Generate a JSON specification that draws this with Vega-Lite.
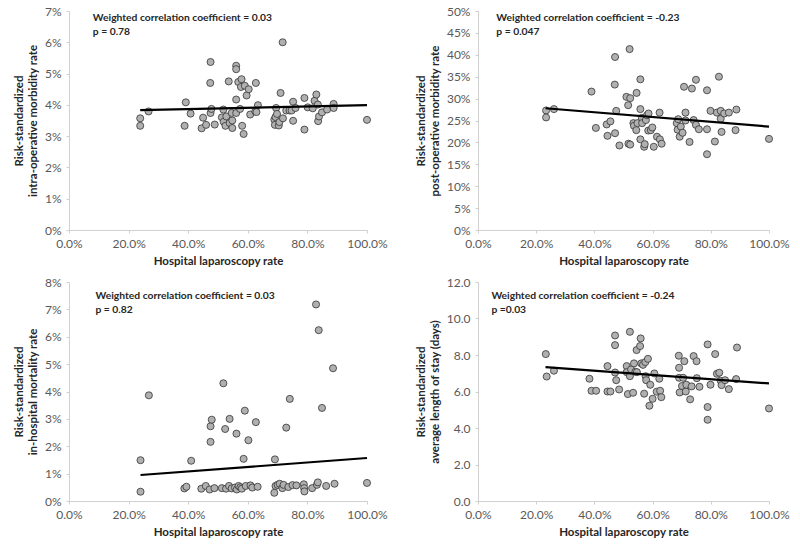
{
  "$schema": "https://vega.github.io/schema/vega-lite/v6.json",
  "background": "white",
  "padding": {"left": 13, "top": 5, "right": 5, "bottom": 5},
  "columns": 2,
  "align": "each",
  "spacing": {"column": 27, "row": 9},
  "config": {
    "view": {"stroke": null},
    "font": "Lato",
    "axis": {
      "grid": false,
      "domainColor": "#d0d0d0",
      "tickColor": "#d0d0d0",
      "tickSize": 3,
      "labelColor": "#595959",
      "labelFont": "Lato",
      "labelFontSize": 12,
      "labelPadding": 5,
      "labelOverlap": false,
      "labelFlush": false,
      "labelBound": false,
      "titleFont": "Lato",
      "titleFontSize": 11.5,
      "titleFontWeight": "bold",
      "titleColor": "#262626",
      "titlePadding": 6
    }
  },
  "datasets": {
    "p1": [
      {"rate": 0.239, "val": 0.0357}, {"rate": 0.239, "val": 0.0333}, {"rate": 0.267, "val": 0.0379}, {"rate": 0.388, "val": 0.0333},
      {"rate": 0.392, "val": 0.0408}, {"rate": 0.408, "val": 0.0372}, {"rate": 0.445, "val": 0.0325}, {"rate": 0.450, "val": 0.0359},
      {"rate": 0.460, "val": 0.0336}, {"rate": 0.475, "val": 0.0537}, {"rate": 0.474, "val": 0.0470}, {"rate": 0.475, "val": 0.0374},
      {"rate": 0.478, "val": 0.0387}, {"rate": 0.489, "val": 0.0337}, {"rate": 0.513, "val": 0.0360}, {"rate": 0.518, "val": 0.0385},
      {"rate": 0.519, "val": 0.0346}, {"rate": 0.525, "val": 0.0333}, {"rate": 0.528, "val": 0.0363}, {"rate": 0.536, "val": 0.0475},
      {"rate": 0.539, "val": 0.0342}, {"rate": 0.546, "val": 0.0374}, {"rate": 0.548, "val": 0.0326}, {"rate": 0.548, "val": 0.0350},
      {"rate": 0.561, "val": 0.0525}, {"rate": 0.561, "val": 0.0514}, {"rate": 0.561, "val": 0.0417}, {"rate": 0.561, "val": 0.0374},
      {"rate": 0.568, "val": 0.0473}, {"rate": 0.574, "val": 0.0387}, {"rate": 0.577, "val": 0.0457}, {"rate": 0.579, "val": 0.0482},
      {"rate": 0.581, "val": 0.0333}, {"rate": 0.586, "val": 0.0307}, {"rate": 0.590, "val": 0.0461}, {"rate": 0.596, "val": 0.0430},
      {"rate": 0.603, "val": 0.0450}, {"rate": 0.608, "val": 0.0369}, {"rate": 0.625, "val": 0.0379}, {"rate": 0.627, "val": 0.0470},
      {"rate": 0.629, "val": 0.0377}, {"rate": 0.634, "val": 0.0399}, {"rate": 0.689, "val": 0.0353}, {"rate": 0.691, "val": 0.0336},
      {"rate": 0.693, "val": 0.0361}, {"rate": 0.695, "val": 0.0390}, {"rate": 0.698, "val": 0.0371}, {"rate": 0.704, "val": 0.0334},
      {"rate": 0.706, "val": 0.0345}, {"rate": 0.710, "val": 0.0438}, {"rate": 0.717, "val": 0.0600}, {"rate": 0.718, "val": 0.0357},
      {"rate": 0.729, "val": 0.0382}, {"rate": 0.740, "val": 0.0382}, {"rate": 0.747, "val": 0.0382}, {"rate": 0.752, "val": 0.0410},
      {"rate": 0.752, "val": 0.0349}, {"rate": 0.760, "val": 0.0390}, {"rate": 0.790, "val": 0.0422}, {"rate": 0.790, "val": 0.0321},
      {"rate": 0.801, "val": 0.0392}, {"rate": 0.818, "val": 0.0389}, {"rate": 0.824, "val": 0.0413}, {"rate": 0.830, "val": 0.0433},
      {"rate": 0.835, "val": 0.0401}, {"rate": 0.836, "val": 0.0348}, {"rate": 0.839, "val": 0.0363}, {"rate": 0.849, "val": 0.0376},
      {"rate": 0.866, "val": 0.0385}, {"rate": 0.888, "val": 0.0403}, {"rate": 0.888, "val": 0.0390}, {"rate": 1.0, "val": 0.0352}
    ],
    "l1": [{"rate": 0.239, "val": 0.0383}, {"rate": 1.0, "val": 0.0399}],
    "p2": [
      {"rate": 0.234, "val": 0.273}, {"rate": 0.234, "val": 0.257}, {"rate": 0.261, "val": 0.276}, {"rate": 0.390, "val": 0.316},
      {"rate": 0.405, "val": 0.233}, {"rate": 0.442, "val": 0.241}, {"rate": 0.445, "val": 0.215}, {"rate": 0.455, "val": 0.248},
      {"rate": 0.470, "val": 0.332}, {"rate": 0.471, "val": 0.395}, {"rate": 0.471, "val": 0.221}, {"rate": 0.475, "val": 0.272},
      {"rate": 0.486, "val": 0.193}, {"rate": 0.510, "val": 0.304}, {"rate": 0.516, "val": 0.285}, {"rate": 0.517, "val": 0.197},
      {"rate": 0.521, "val": 0.413}, {"rate": 0.523, "val": 0.301}, {"rate": 0.523, "val": 0.195}, {"rate": 0.534, "val": 0.244},
      {"rate": 0.536, "val": 0.238}, {"rate": 0.544, "val": 0.228}, {"rate": 0.545, "val": 0.313}, {"rate": 0.548, "val": 0.244},
      {"rate": 0.558, "val": 0.344}, {"rate": 0.558, "val": 0.276}, {"rate": 0.558, "val": 0.207}, {"rate": 0.563, "val": 0.256},
      {"rate": 0.564, "val": 0.244}, {"rate": 0.571, "val": 0.190}, {"rate": 0.573, "val": 0.196}, {"rate": 0.577, "val": 0.251},
      {"rate": 0.581, "val": 0.262}, {"rate": 0.585, "val": 0.227}, {"rate": 0.586, "val": 0.266}, {"rate": 0.594, "val": 0.228},
      {"rate": 0.599, "val": 0.234}, {"rate": 0.604, "val": 0.190}, {"rate": 0.615, "val": 0.213}, {"rate": 0.624, "val": 0.268},
      {"rate": 0.625, "val": 0.207}, {"rate": 0.631, "val": 0.197}, {"rate": 0.683, "val": 0.244}, {"rate": 0.686, "val": 0.229},
      {"rate": 0.688, "val": 0.253}, {"rate": 0.693, "val": 0.213}, {"rate": 0.697, "val": 0.236}, {"rate": 0.703, "val": 0.222},
      {"rate": 0.708, "val": 0.327}, {"rate": 0.713, "val": 0.268}, {"rate": 0.713, "val": 0.250}, {"rate": 0.727, "val": 0.201},
      {"rate": 0.735, "val": 0.323}, {"rate": 0.741, "val": 0.251}, {"rate": 0.749, "val": 0.343}, {"rate": 0.749, "val": 0.240},
      {"rate": 0.759, "val": 0.230}, {"rate": 0.787, "val": 0.319}, {"rate": 0.787, "val": 0.230}, {"rate": 0.787, "val": 0.173},
      {"rate": 0.799, "val": 0.272}, {"rate": 0.814, "val": 0.202}, {"rate": 0.821, "val": 0.268}, {"rate": 0.828, "val": 0.350},
      {"rate": 0.834, "val": 0.272}, {"rate": 0.834, "val": 0.254}, {"rate": 0.837, "val": 0.224}, {"rate": 0.846, "val": 0.266},
      {"rate": 0.862, "val": 0.268}, {"rate": 0.885, "val": 0.228}, {"rate": 0.888, "val": 0.275}, {"rate": 1.0, "val": 0.208}
    ],
    "l2": [{"rate": 0.232, "val": 0.278}, {"rate": 1.0, "val": 0.236}],
    "p3": [
      {"rate": 0.240, "val": 0.0149}, {"rate": 0.240, "val": 0.0034}, {"rate": 0.268, "val": 0.0386}, {"rate": 0.387, "val": 0.0046},
      {"rate": 0.394, "val": 0.0052}, {"rate": 0.410, "val": 0.0147}, {"rate": 0.444, "val": 0.0045}, {"rate": 0.459, "val": 0.0055},
      {"rate": 0.472, "val": 0.0042}, {"rate": 0.475, "val": 0.0216}, {"rate": 0.475, "val": 0.0273}, {"rate": 0.479, "val": 0.0297},
      {"rate": 0.488, "val": 0.0047}, {"rate": 0.513, "val": 0.0047}, {"rate": 0.518, "val": 0.0430}, {"rate": 0.524, "val": 0.0263},
      {"rate": 0.527, "val": 0.0045}, {"rate": 0.537, "val": 0.0055}, {"rate": 0.539, "val": 0.0300}, {"rate": 0.546, "val": 0.0046},
      {"rate": 0.557, "val": 0.0049}, {"rate": 0.562, "val": 0.0246}, {"rate": 0.563, "val": 0.0042}, {"rate": 0.569, "val": 0.0055},
      {"rate": 0.575, "val": 0.0050}, {"rate": 0.580, "val": 0.0045}, {"rate": 0.586, "val": 0.0154}, {"rate": 0.590, "val": 0.0330},
      {"rate": 0.593, "val": 0.0055}, {"rate": 0.602, "val": 0.0222}, {"rate": 0.609, "val": 0.0057}, {"rate": 0.615, "val": 0.0049},
      {"rate": 0.627, "val": 0.0288}, {"rate": 0.633, "val": 0.0052}, {"rate": 0.689, "val": 0.0030}, {"rate": 0.691, "val": 0.0152},
      {"rate": 0.693, "val": 0.0055}, {"rate": 0.700, "val": 0.0059}, {"rate": 0.707, "val": 0.0063}, {"rate": 0.716, "val": 0.0047},
      {"rate": 0.720, "val": 0.0059}, {"rate": 0.729, "val": 0.0268}, {"rate": 0.736, "val": 0.0051}, {"rate": 0.741, "val": 0.0373},
      {"rate": 0.750, "val": 0.0058}, {"rate": 0.763, "val": 0.0057}, {"rate": 0.788, "val": 0.0061}, {"rate": 0.789, "val": 0.0047},
      {"rate": 0.790, "val": 0.0035}, {"rate": 0.816, "val": 0.0047}, {"rate": 0.829, "val": 0.0718}, {"rate": 0.832, "val": 0.0059},
      {"rate": 0.835, "val": 0.0068}, {"rate": 0.838, "val": 0.0624}, {"rate": 0.849, "val": 0.0340}, {"rate": 0.863, "val": 0.0055},
      {"rate": 0.886, "val": 0.0485}, {"rate": 0.891, "val": 0.0063}, {"rate": 1.0, "val": 0.0066}
    ],
    "l3": [{"rate": 0.240, "val": 0.0095}, {"rate": 1.0, "val": 0.0157}],
    "p4": [
      {"rate": 0.233, "val": 8.05}, {"rate": 0.236, "val": 6.82}, {"rate": 0.261, "val": 7.14}, {"rate": 0.383, "val": 6.70},
      {"rate": 0.390, "val": 6.04}, {"rate": 0.406, "val": 6.04}, {"rate": 0.445, "val": 7.39}, {"rate": 0.445, "val": 6.00},
      {"rate": 0.455, "val": 6.00}, {"rate": 0.471, "val": 9.07}, {"rate": 0.471, "val": 8.54}, {"rate": 0.471, "val": 7.04},
      {"rate": 0.475, "val": 6.62}, {"rate": 0.485, "val": 6.11}, {"rate": 0.511, "val": 7.39}, {"rate": 0.511, "val": 7.06},
      {"rate": 0.515, "val": 5.86}, {"rate": 0.522, "val": 9.27}, {"rate": 0.522, "val": 6.84}, {"rate": 0.526, "val": 7.21},
      {"rate": 0.533, "val": 5.93}, {"rate": 0.536, "val": 7.54}, {"rate": 0.541, "val": 7.08}, {"rate": 0.545, "val": 8.27},
      {"rate": 0.546, "val": 7.06}, {"rate": 0.557, "val": 8.49}, {"rate": 0.559, "val": 8.91}, {"rate": 0.561, "val": 7.54},
      {"rate": 0.567, "val": 7.46}, {"rate": 0.571, "val": 5.88}, {"rate": 0.575, "val": 7.61}, {"rate": 0.576, "val": 6.84},
      {"rate": 0.578, "val": 6.62}, {"rate": 0.584, "val": 7.79}, {"rate": 0.589, "val": 5.22}, {"rate": 0.592, "val": 6.37},
      {"rate": 0.600, "val": 5.60}, {"rate": 0.606, "val": 6.99}, {"rate": 0.614, "val": 5.99}, {"rate": 0.623, "val": 6.70},
      {"rate": 0.626, "val": 6.04}, {"rate": 0.630, "val": 5.69}, {"rate": 0.690, "val": 7.96}, {"rate": 0.691, "val": 7.30},
      {"rate": 0.691, "val": 6.75}, {"rate": 0.693, "val": 5.95}, {"rate": 0.701, "val": 6.30}, {"rate": 0.705, "val": 6.75},
      {"rate": 0.709, "val": 7.66}, {"rate": 0.714, "val": 6.00}, {"rate": 0.716, "val": 6.37}, {"rate": 0.729, "val": 5.57},
      {"rate": 0.734, "val": 6.28}, {"rate": 0.741, "val": 7.94}, {"rate": 0.751, "val": 7.66}, {"rate": 0.752, "val": 6.73},
      {"rate": 0.761, "val": 6.26}, {"rate": 0.789, "val": 8.58}, {"rate": 0.789, "val": 5.15}, {"rate": 0.789, "val": 4.45},
      {"rate": 0.799, "val": 6.37}, {"rate": 0.815, "val": 8.05}, {"rate": 0.821, "val": 6.97}, {"rate": 0.829, "val": 7.03},
      {"rate": 0.834, "val": 6.59}, {"rate": 0.837, "val": 6.35}, {"rate": 0.849, "val": 6.62}, {"rate": 0.862, "val": 6.13},
      {"rate": 0.887, "val": 6.68}, {"rate": 0.890, "val": 8.41}, {"rate": 1.0, "val": 5.07}
    ],
    "l4": [{"rate": 0.232, "val": 7.34}, {"rate": 1.0, "val": 6.44}]
  },
  "concat": [
    {
      "width": 298, "height": 219,
      "layer": [
        {
          "data": {"name": "p1"},
          "mark": {"type": "point", "shape": "circle", "filled": true, "fill": "#b0b0b0", "stroke": "#333333", "strokeWidth": 0.8, "size": 50, "opacity": 1},
          "encoding": {
            "x": {"field": "rate", "type": "quantitative", "scale": {"domain": [0, 1], "nice": false}, "axis": {"title": "Hospital laparoscopy rate", "values": [0, 0.2, 0.4, 0.6, 0.8, 1], "format": ".1%"}},
            "y": {"field": "val", "type": "quantitative", "scale": {"domain": [0, 0.07], "nice": false}, "axis": {"title": ["Risk-standardized", "intra-operative morbidity rate"], "values": [0, 0.01, 0.02, 0.03, 0.04, 0.05, 0.06, 0.07], "format": ".0%"}}
          }
        },
        {
          "data": {"name": "l1"},
          "mark": {"type": "line", "color": "black", "strokeWidth": 2.2},
          "encoding": {
            "x": {"field": "rate", "type": "quantitative", "axis": {"title": "Hospital laparoscopy rate", "values": [0, 0.2, 0.4, 0.6, 0.8, 1], "format": ".1%"}},
            "y": {"field": "val", "type": "quantitative", "axis": {"title": ["Risk-standardized", "intra-operative morbidity rate"], "values": [0, 0.01, 0.02, 0.03, 0.04, 0.05, 0.06, 0.07], "format": ".0%"}}
          }
        },
        {
          "data": {"values": [{}]},
          "mark": {"type": "text", "text": ["Weighted correlation coefficient = 0.03", "p = 0.78"], "align": "left", "baseline": "top", "font": "Lato", "fontSize": 10.3, "fontWeight": "bold", "color": "#262626", "lineHeight": 14},
          "encoding": {
            "x": {"datum": 0.08, "type": "quantitative", "axis": {"title": "Hospital laparoscopy rate", "values": [0, 0.2, 0.4, 0.6, 0.8, 1], "format": ".1%"}},
            "y": {"datum": 0.0693, "type": "quantitative", "axis": {"title": ["Risk-standardized", "intra-operative morbidity rate"], "values": [0, 0.01, 0.02, 0.03, 0.04, 0.05, 0.06, 0.07], "format": ".0%"}}
          }
        }
      ]
    },
    {
      "width": 291, "height": 219,
      "layer": [
        {
          "data": {"name": "p2"},
          "mark": {"type": "point", "shape": "circle", "filled": true, "fill": "#b0b0b0", "stroke": "#333333", "strokeWidth": 0.8, "size": 50, "opacity": 1},
          "encoding": {
            "x": {"field": "rate", "type": "quantitative", "scale": {"domain": [0, 1], "nice": false}, "axis": {"title": "Hospital laparoscopy rate", "values": [0, 0.2, 0.4, 0.6, 0.8, 1], "format": ".1%"}},
            "y": {"field": "val", "type": "quantitative", "scale": {"domain": [0, 0.5], "nice": false}, "axis": {"title": ["Risk-standardized", "post-operative morbidity rate"], "values": [0, 0.05, 0.1, 0.15, 0.2, 0.25, 0.3, 0.35, 0.4, 0.45, 0.5], "format": ".0%"}}
          }
        },
        {
          "data": {"name": "l2"},
          "mark": {"type": "line", "color": "black", "strokeWidth": 2.2},
          "encoding": {
            "x": {"field": "rate", "type": "quantitative", "axis": {"title": "Hospital laparoscopy rate", "values": [0, 0.2, 0.4, 0.6, 0.8, 1], "format": ".1%"}},
            "y": {"field": "val", "type": "quantitative", "axis": {"title": ["Risk-standardized", "post-operative morbidity rate"], "values": [0, 0.05, 0.1, 0.15, 0.2, 0.25, 0.3, 0.35, 0.4, 0.45, 0.5], "format": ".0%"}}
          }
        },
        {
          "data": {"values": [{}]},
          "mark": {"type": "text", "text": ["Weighted correlation coefficient = -0.23", "p = 0.047"], "align": "left", "baseline": "top", "font": "Lato", "fontSize": 10.3, "fontWeight": "bold", "color": "#262626", "lineHeight": 14},
          "encoding": {
            "x": {"datum": 0.063, "type": "quantitative", "axis": {"title": "Hospital laparoscopy rate", "values": [0, 0.2, 0.4, 0.6, 0.8, 1], "format": ".1%"}},
            "y": {"datum": 0.495, "type": "quantitative", "axis": {"title": ["Risk-standardized", "post-operative morbidity rate"], "values": [0, 0.05, 0.1, 0.15, 0.2, 0.25, 0.3, 0.35, 0.4, 0.45, 0.5], "format": ".0%"}}
          }
        }
      ]
    },
    {
      "width": 298, "height": 219,
      "layer": [
        {
          "data": {"name": "p3"},
          "mark": {"type": "point", "shape": "circle", "filled": true, "fill": "#b0b0b0", "stroke": "#333333", "strokeWidth": 0.8, "size": 50, "opacity": 1},
          "encoding": {
            "x": {"field": "rate", "type": "quantitative", "scale": {"domain": [0, 1], "nice": false}, "axis": {"title": "Hospital laparoscopy rate", "values": [0, 0.2, 0.4, 0.6, 0.8, 1], "format": ".1%"}},
            "y": {"field": "val", "type": "quantitative", "scale": {"domain": [0, 0.08], "nice": false}, "axis": {"title": ["Risk-standardized", "in-hospital mortality rate"], "values": [0, 0.01, 0.02, 0.03, 0.04, 0.05, 0.06, 0.07, 0.08], "format": ".0%"}}
          }
        },
        {
          "data": {"name": "l3"},
          "mark": {"type": "line", "color": "black", "strokeWidth": 2.2},
          "encoding": {
            "x": {"field": "rate", "type": "quantitative", "axis": {"title": "Hospital laparoscopy rate", "values": [0, 0.2, 0.4, 0.6, 0.8, 1], "format": ".1%"}},
            "y": {"field": "val", "type": "quantitative", "axis": {"title": ["Risk-standardized", "in-hospital mortality rate"], "values": [0, 0.01, 0.02, 0.03, 0.04, 0.05, 0.06, 0.07, 0.08], "format": ".0%"}}
          }
        },
        {
          "data": {"values": [{}]},
          "mark": {"type": "text", "text": ["Weighted correlation coefficient = 0.03", "p = 0.82"], "align": "left", "baseline": "top", "font": "Lato", "fontSize": 10.3, "fontWeight": "bold", "color": "#262626", "lineHeight": 14},
          "encoding": {
            "x": {"datum": 0.089, "type": "quantitative", "axis": {"title": "Hospital laparoscopy rate", "values": [0, 0.2, 0.4, 0.6, 0.8, 1], "format": ".1%"}},
            "y": {"datum": 0.0766, "type": "quantitative", "axis": {"title": ["Risk-standardized", "in-hospital mortality rate"], "values": [0, 0.01, 0.02, 0.03, 0.04, 0.05, 0.06, 0.07, 0.08], "format": ".0%"}}
          }
        }
      ]
    },
    {
      "width": 291, "height": 219,
      "layer": [
        {
          "data": {"name": "p4"},
          "mark": {"type": "point", "shape": "circle", "filled": true, "fill": "#b0b0b0", "stroke": "#333333", "strokeWidth": 0.8, "size": 50, "opacity": 1},
          "encoding": {
            "x": {"field": "rate", "type": "quantitative", "scale": {"domain": [0, 1], "nice": false}, "axis": {"title": "Hospital laparoscopy rate", "values": [0, 0.2, 0.4, 0.6, 0.8, 1], "format": ".1%"}},
            "y": {"field": "val", "type": "quantitative", "scale": {"domain": [0, 12], "nice": false}, "axis": {"title": ["Risk-standardized", "average length of stay (days)"], "values": [0, 2, 4, 6, 8, 10, 12], "format": ".1f"}}
          }
        },
        {
          "data": {"name": "l4"},
          "mark": {"type": "line", "color": "black", "strokeWidth": 2.2},
          "encoding": {
            "x": {"field": "rate", "type": "quantitative", "axis": {"title": "Hospital laparoscopy rate", "values": [0, 0.2, 0.4, 0.6, 0.8, 1], "format": ".1%"}},
            "y": {"field": "val", "type": "quantitative", "axis": {"title": ["Risk-standardized", "average length of stay (days)"], "values": [0, 2, 4, 6, 8, 10, 12], "format": ".1f"}}
          }
        },
        {
          "data": {"values": [{}]},
          "mark": {"type": "text", "text": ["Weighted correlation coefficient = -0.24", "p =0.03"], "align": "left", "baseline": "top", "font": "Lato", "fontSize": 10.3, "fontWeight": "bold", "color": "#262626", "lineHeight": 14},
          "encoding": {
            "x": {"datum": 0.046, "type": "quantitative", "axis": {"title": "Hospital laparoscopy rate", "values": [0, 0.2, 0.4, 0.6, 0.8, 1], "format": ".1%"}},
            "y": {"datum": 11.5, "type": "quantitative", "axis": {"title": ["Risk-standardized", "average length of stay (days)"], "values": [0, 2, 4, 6, 8, 10, 12], "format": ".1f"}}
          }
        }
      ]
    }
  ]
}
